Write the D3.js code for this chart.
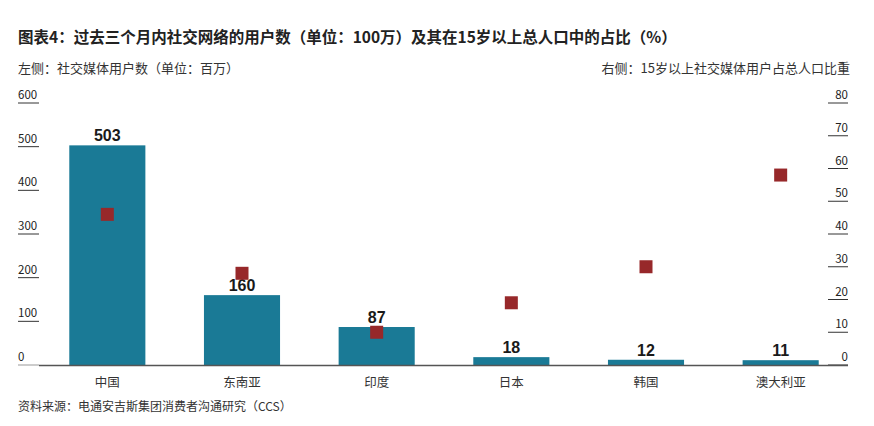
<!DOCTYPE html>
<html><head><meta charset="utf-8">
<script src="https://cdn.jsdelivr.net/npm/d3@7"></script>
<style>body{margin:0;background:#fff;font-family:"Noto Sans CJK SC","Noto Sans",sans-serif}</style>
</head><body><div id="chart"></div>
<script>
const categories = ["中国", "东南亚", "印度", "日本", "韩国", "澳大利亚"];
const users = [503, 160, 87, 18, 12, 11];
const share = [46, 28, 10, 19, 30, 58];
const leftTicks = [0, 100, 200, 300, 400, 500, 600];
const rightTicks = [0, 10, 20, 30, 40, 50, 60, 70, 80];

const W = 874, H = 426, base = 365, plotTop = 103;
const svg = d3.select("#chart").append("svg").attr("width", W).attr("height", H);
const f = "'Noto Sans CJK SC','Noto Sans',sans-serif";

const x = d3.scaleBand().domain(categories).range([40, 848]).paddingInner(0.435).paddingOuter(0.2175);
const yL = d3.scaleLinear().domain([0, 600]).range([base, plotTop]);
const yR = d3.scaleLinear().domain([0, 80]).range([base, plotTop]);

svg.append("text").attr("x", 18).attr("y", 43).attr("font-size", 15.5).attr("font-weight", 700)
  .attr("fill", "#222").attr("font-family", f).text("图表4：过去三个月内社交网络的用户数（单位：100万）及其在15岁以上总人口中的占比（%）");
svg.append("text").attr("x", 18).attr("y", 73).attr("font-size", 13).attr("fill", "#333")
  .attr("font-family", f).text("左侧：社交媒体用户数（单位：百万）");
svg.append("text").attr("x", 850).attr("y", 73).attr("font-size", 13).attr("fill", "#333")
  .attr("text-anchor", "end").attr("font-family", f).text("右侧：15岁以上社交媒体用户占总人口比重");

const gl = svg.append("g");
gl.selectAll("line").data(leftTicks).join("line").attr("x1", 18).attr("x2", 39)
  .attr("y1", d => yL(d)).attr("y2", d => yL(d)).attr("stroke", d => d ? "#333" : "#999").attr("stroke-width", 1);
gl.selectAll("text").data(leftTicks).join("text").attr("x", 18).attr("y", d => yL(d) - 4)
  .attr("font-size", 11.5).attr("fill", "#222").attr("font-family", f).text(d => d);

const gr = svg.append("g");
gr.selectAll("line").data(rightTicks).join("line").attr("x1", 828).attr("x2", 848)
  .attr("y1", d => yR(d)).attr("y2", d => yR(d)).attr("stroke", "#333").attr("stroke-width", 1);
gr.selectAll("text").data(rightTicks).join("text").attr("x", 848).attr("y", d => yR(d) - 4)
  .attr("text-anchor", "end").attr("font-size", 11.5).attr("fill", "#222").attr("font-family", f).text(d => d);

svg.selectAll("rect.bar").data(categories).join("rect").attr("class", "bar")
  .attr("x", d => x(d)).attr("width", x.bandwidth())
  .attr("y", (d, i) => yL(users[i])).attr("height", (d, i) => base - yL(users[i])).attr("fill", "#1a7a96");

svg.append("line").attr("x1", 39).attr("x2", 848).attr("y1", base + 0.5).attr("y2", base + 0.5)
  .attr("stroke", "#555").attr("stroke-width", 1.5);

svg.selectAll("text.val").data(categories).join("text").attr("class", "val")
  .attr("x", d => x(d) + x.bandwidth() / 2).attr("y", (d, i) => yL(users[i]) - 4)
  .attr("text-anchor", "middle").attr("font-size", 16).attr("font-weight", 700).attr("fill", "#1a1a1a")
  .attr("font-family", "'Liberation Sans',Arial,sans-serif").text((d, i) => users[i]);

const s = 13;
svg.selectAll("rect.mk").data(categories).join("rect").attr("class", "mk")
  .attr("x", d => x(d) + x.bandwidth() / 2 - s / 2).attr("y", (d, i) => yR(share[i]) - s / 2)
  .attr("width", s).attr("height", s).attr("fill", "#97282a");

svg.selectAll("text.cat").data(categories).join("text").attr("class", "cat")
  .attr("x", d => x(d) + x.bandwidth() / 2).attr("y", 387).attr("text-anchor", "middle")
  .attr("font-size", 12.5).attr("fill", "#333").attr("font-family", f).text(d => d);

svg.append("text").attr("x", 18).attr("y", 411).attr("font-size", 12).attr("fill", "#333")
  .attr("font-family", f).text("资料来源：电通安吉斯集团消费者沟通研究（CCS）");
</script></body></html>
